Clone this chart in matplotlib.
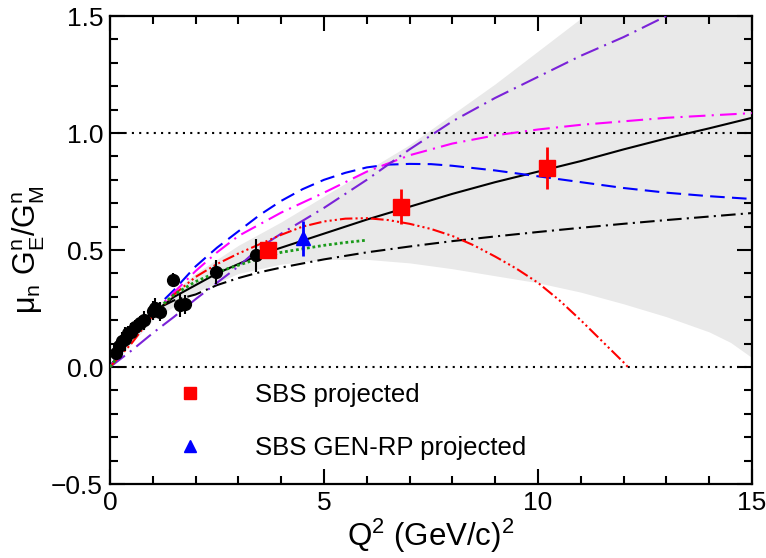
import numpy as np
import matplotlib
matplotlib.use("Agg")
import matplotlib.pyplot as plt
from matplotlib.lines import Line2D
from matplotlib.ticker import MultipleLocator

plt.rcParams['font.family'] = ['Liberation Sans', 'DejaVu Sans']
plt.rcParams['mathtext.fontset'] = 'custom'
plt.rcParams['mathtext.rm'] = 'Liberation Sans'
plt.rcParams['mathtext.it'] = 'Liberation Sans'
plt.rcParams['mathtext.bf'] = 'Liberation Sans:bold'

# measured data (black points)
data_q2 = [0.15, 0.2, 0.28, 0.35, 0.42, 0.5, 0.58, 0.7, 0.8, 1.0, 1.05, 1.17, 1.47, 1.64, 1.75, 2.48, 3.41]
data_val = [0.06, 0.09, 0.11, 0.12, 0.145, 0.15, 0.17, 0.19, 0.2, 0.24, 0.253, 0.236, 0.372, 0.265, 0.268, 0.406, 0.478]
data_err = [0.03, 0.03, 0.04, 0.05, 0.03, 0.04, 0.03, 0.03, 0.04, 0.04, 0.04, 0.04, 0.03, 0.05, 0.04, 0.05, 0.07]

# SBS projected points
sbs_q2 = [3.7, 6.8, 10.2]
sbs_val = [0.50, 0.685, 0.85]
sbs_err = [0.03, 0.075, 0.09]

# SBS GEN-RP projected
rp_q2 = [4.5]
rp_val = [0.551]
rp_err = [0.075]

# uncertainty band
band_q2 = [0, 1, 2, 3, 4, 5, 6, 7, 8, 9, 10, 11, 12, 13, 14, 14.5, 15]
band_lo = [0, 0.2, 0.32, 0.40, 0.44, 0.46, 0.46, 0.445, 0.42, 0.39, 0.36, 0.32, 0.27, 0.215, 0.15, 0.105, 0.04]
band_hi = [0, 0.25, 0.40, 0.52, 0.62, 0.73, 0.84, 0.95, 1.08, 1.21, 1.35, 1.49, 1.64, 1.80, 1.95, 2.02, 2.10]

# model curves
q_a = [0, 0.5, 1, 1.5, 2, 2.5, 3, 3.5, 4, 5, 6, 7, 8, 9, 10, 11, 12, 13, 14, 15]
fit_black = [0, 0.13, 0.23, 0.3, 0.35, 0.4, 0.44, 0.48, 0.51, 0.57, 0.63, 0.685, 0.74, 0.79, 0.835, 0.88, 0.93, 0.977, 1.02, 1.065]
dd_black = [0, 0.14, 0.24, 0.285, 0.31, 0.35, 0.38, 0.405, 0.425, 0.46, 0.49, 0.515, 0.538, 0.558, 0.577, 0.595, 0.612, 0.628, 0.643, 0.658]
magenta = [0, 0.12, 0.23, 0.32, 0.41, 0.49, 0.56, 0.61, 0.66, 0.745, 0.835, 0.905, 0.955, 0.99, 1.015, 1.035, 1.05, 1.065, 1.075, 1.085]
purple = [0, 0.07, 0.145, 0.215, 0.29, 0.36, 0.43, 0.51, 0.57, 0.68, 0.8, 0.93, 1.05, 1.15, 1.24, 1.33, 1.41, 1.5, 1.59, 1.68]

q_blue = [0, 0.5, 1, 1.5, 2, 2.5, 3, 3.5, 4, 4.5, 5, 5.5, 6, 6.5, 7, 7.5, 8, 9, 10, 11, 12, 13, 14, 15]
blue = [0, 0.13, 0.24, 0.33, 0.43, 0.51, 0.58, 0.65, 0.71, 0.76, 0.8, 0.83, 0.853, 0.865, 0.868, 0.867, 0.86, 0.84, 0.815, 0.79, 0.765, 0.745, 0.73, 0.718]

q_red = [0, 0.5, 1, 1.5, 2, 2.5, 3, 3.5, 4, 4.5, 5, 5.5, 6, 6.5, 7, 7.5, 8, 8.5, 9, 9.5, 10, 10.5, 11, 11.5, 12, 12.1]
red = [0, 0.1, 0.22, 0.31, 0.385, 0.44, 0.485, 0.525, 0.565, 0.6, 0.622, 0.634, 0.636, 0.628, 0.612, 0.59, 0.56, 0.52, 0.472, 0.42, 0.36, 0.285, 0.2, 0.11, 0.02, 0.0]

q_green = [0, 0.5, 1, 1.5, 2, 2.5, 3, 3.5, 4, 4.5, 5, 5.5, 6]
green = [0, 0.12, 0.23, 0.31, 0.365, 0.405, 0.435, 0.465, 0.49, 0.505, 0.52, 0.532, 0.542]

fig = plt.figure(figsize=(7.66, 5.58), dpi=100)
ax = fig.add_axes([0.1436, 0.1326, 0.8381, 0.8387])

ax.fill_between(band_q2, band_lo, band_hi, color='#e9e9e9', lw=0, zorder=1)

ax.axhline(1.0, color='black', lw=1.5, ls=(0, (1, 2.5)), zorder=2)
ax.axhline(0.0, color='black', lw=1.5, ls=(0, (1, 2.5)), zorder=2)

ax.plot(q_a, fit_black, color='black', lw=1.5, zorder=3)
ax.plot(q_a, dd_black, color='black', lw=1.5, ls=(0, (7, 2.5, 1, 2.5)), zorder=3)
ax.plot(q_blue, blue, color='#0000ff', lw=1.5, ls=(0, (7, 3.5)), zorder=3)
ax.plot(q_a, magenta, color='#ff00ff', lw=1.5, ls=(0, (8, 3, 1, 3)), zorder=3)
ax.plot(q_a, purple, color='#7a22d8', lw=1.5, ls=(0, (9, 3, 1, 3)), zorder=3)
ax.plot(q_red, red, color='#ff0000', lw=1.5, ls=(0, (6, 1.5, 1, 1.5, 1, 1.5, 1, 1.5)), zorder=3)
ax.plot(q_green, green, color='#1a9a1a', lw=2, ls=(0, (1, 1)), zorder=3)

ax.errorbar(data_q2, data_val, yerr=data_err, fmt='o', color='black', ms=8.5,
            elinewidth=1.5, capsize=0, zorder=5)
ax.errorbar(sbs_q2, sbs_val, yerr=sbs_err, fmt='s', color='#ff0000', ms=11,
            elinewidth=2, capsize=0, zorder=6)
ax.errorbar(rp_q2, rp_val, yerr=rp_err, fmt='^', color='#0000ff', ms=10,
            elinewidth=2, capsize=0, zorder=6)

ax.set_xlim(0, 15)
ax.set_ylim(-0.5, 1.5)
ax.xaxis.set_major_locator(MultipleLocator(5))
ax.xaxis.set_minor_locator(MultipleLocator(1))
ax.yaxis.set_major_locator(MultipleLocator(0.5))
ax.yaxis.set_minor_locator(MultipleLocator(0.1))
ax.set_xticks([0, 5, 10, 15])
ax.set_xticklabels(['0', '5', '10', '15'])
ax.set_yticks([-0.5, 0, 0.5, 1.0, 1.5])
ax.set_yticklabels(['\u22120.5', '0.0', '0.5', '1.0', '1.5'])
ax.tick_params(which='both', direction='in', top=True, right=True, width=1.5,
               labelsize=19)
ax.tick_params(which='major', length=11, pad=5)
ax.tick_params(which='minor', length=6)
for s in ax.spines.values():
    s.set_linewidth(1.6)

ax.set_xlabel(r'Q$^2$ (GeV/c)$^2$', fontsize=22.5, labelpad=1)
ax.set_ylabel(r'$\mathrm{\mu_n}\ \mathrm{G^n_E/G^n_M}$', fontsize=22)
ax.yaxis.set_label_coords(-0.098, 0.5)

handles = [Line2D([], [], ls='none', marker='s', color='#ff0000', ms=9),
           Line2D([], [], ls='none', marker='^', color='#0000ff', ms=8)]
ax.legend(handles, ['SBS projected', 'SBS GEN-RP projected'], loc='upper left',
          bbox_to_anchor=(0.084, 0.216), frameon=False, fontsize=18.5,
          handlelength=2, handletextpad=1.55, labelspacing=1.15,
          borderpad=0, borderaxespad=0)

fig.savefig('out.png', dpi=100)
